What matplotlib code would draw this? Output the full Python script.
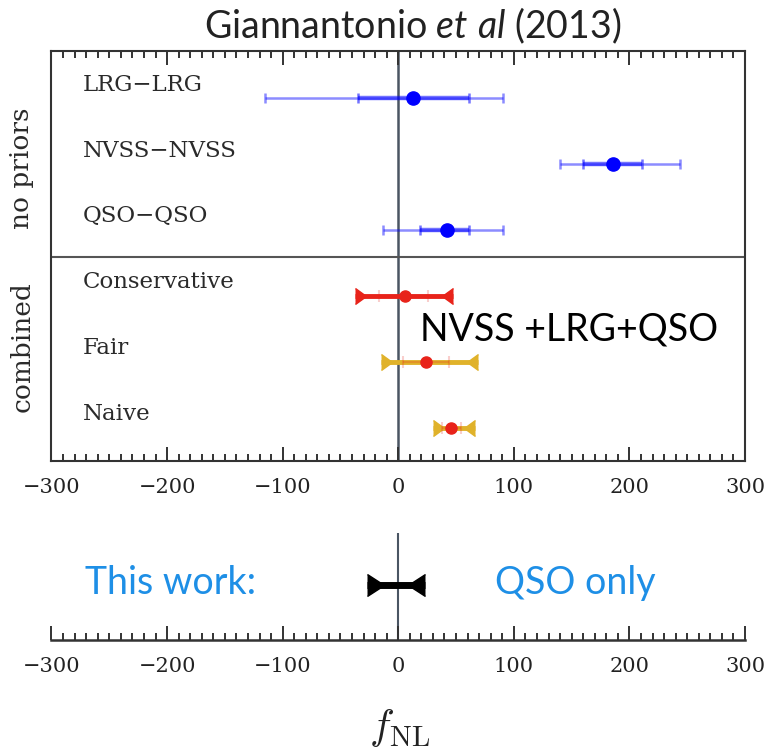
import numpy as np
import matplotlib
matplotlib.use("Agg")
import matplotlib.pyplot as plt
from matplotlib.ticker import MultipleLocator

# f_NL constraints without priors (single tracers)
noprior_labels = ["LRG\u2212LRG", "NVSS\u2212NVSS", "QSO\u2212QSO"]
noprior_fnl = [13, 186, 42]
noprior_lo1 = [-35, 160, 19]
noprior_hi1 = [61, 211, 61]
noprior_lo2 = [-115, 140, -13]
noprior_hi2 = [91, 244, 91]

# combined NVSS+LRG+QSO constraints
comb_labels = ["Conservative", "Fair", "Naive"]
comb_fnl = [6, 24, 46]
comb_lo1 = [-17, 4, 38]
comb_hi1 = [26, 44, 54]
comb_lo2 = [-37, -15, 30]
comb_hi2 = [47, 69, 66]

# this work, QSO only
this_lo = -27
this_hi = 23

W, H = 770, 752
BLUE = "#0000ff"
RED = "#e8231a"
GOLD = "#e0b22a"
SKY = "#1e8fe6"
AXCOL = "#333333"
ZEROCOL = "#4a5563"
SERIF = "DejaVu Serif"

plt.rcParams["mathtext.fontset"] = "custom"
plt.rcParams["mathtext.it"] = "Lato:italic"
plt.rcParams["mathtext.rm"] = "Lato"


def fx(px):
    return px / W


def fy(py):
    return 1 - py / H


def style_ticks(ax, top=True):
    ax.set_xlim(-300, 300)
    ax.xaxis.set_major_locator(MultipleLocator(100))
    ax.xaxis.set_minor_locator(MultipleLocator(10))
    ax.tick_params(axis="x", which="both", direction="in", top=top,
                   bottom=True, color=AXCOL, width=1.4,
                   labelsize=15, pad=12, labelcolor="#222222")
    ax.tick_params(axis="x", which="major", length=10)
    ax.tick_params(axis="x", which="minor", length=5)
    for lab in ax.get_xticklabels():
        lab.set_fontfamily(SERIF)
    ax.set_yticks([])


def capped_bar(ax, lo, hi, y, color, lw, ms):
    ax.plot([lo, hi], [y, y], color=color, lw=lw, solid_capstyle="butt", zorder=3)
    ax.plot([lo], [y], marker=9, color=color, ms=ms, zorder=3)
    ax.plot([hi], [y], marker=8, color=color, ms=ms, zorder=3)


fig = plt.figure(figsize=(W / 100, H / 100), dpi=100)

# ---- upper panel: Giannantonio et al (2013) ----
ax = fig.add_axes([fx(51.5), fy(461), fx(693.5), (461 - 51) / H])
style_ticks(ax, top=True)
ax.set_ylim(0, 6.22)
for s in ax.spines.values():
    s.set_color(AXCOL)
    s.set_linewidth(1.5)
ax.axvline(0, color=ZEROCOL, lw=1.8, zorder=1)
ax.axhline(3.09, color="#555555", lw=1.5, zorder=1)

rows = np.arange(6)[::-1] + 0.5

for i, lab in enumerate(noprior_labels):
    y = rows[i]
    c = noprior_fnl[i]
    ax.errorbar(c, y, xerr=[[c - noprior_lo2[i]], [noprior_hi2[i] - c]],
                fmt="none", ecolor=BLUE, alpha=0.45, elinewidth=1.8,
                capsize=3.5, capthick=1.8, zorder=2)
    ax.errorbar(c, y, xerr=[[c - noprior_lo1[i]], [noprior_hi1[i] - c]],
                fmt="none", ecolor=BLUE, alpha=0.55, elinewidth=3.2,
                capsize=3.5, capthick=1.8, zorder=2)
    ax.plot(c, y, "o", color=BLUE, ms=9.5, zorder=4)
    ax.text(-273, y + 0.21, lab, family=SERIF, fontsize=16.5,
            color="#2a2a2a", va="center", ha="left")

comb_line = [RED, GOLD, GOLD]
for i, lab in enumerate(comb_labels):
    y = rows[3 + i]
    c = comb_fnl[i]
    capped_bar(ax, comb_lo2[i], comb_hi2[i], y, comb_line[i], 3.5, 11)
    ax.errorbar(c, y, xerr=[[c - comb_lo1[i]], [comb_hi1[i] - c]],
                fmt="none", ecolor=RED, alpha=0.22, elinewidth=1.5,
                capsize=4, capthick=1.5, zorder=4)
    ax.plot(c, y, "o", color=RED, ms=8, zorder=5)
    ax.text(-273, y + 0.21, lab, family=SERIF, fontsize=16.5,
            color="#2a2a2a", va="center", ha="left")

ax.text(19, 2.0, "NVSS +LRG+QSO", family="Lato", fontsize=27,
        color="black", ha="left", va="center")

fig.text(fx(22), fy(168), "no priors", family=SERIF, fontsize=19,
         rotation=90, ha="center", va="center", color="#2a2a2a")
fig.text(fx(22), fy(347), "combined", family=SERIF, fontsize=19,
         rotation=90, ha="center", va="center", color="#2a2a2a")

fig.text(fx(413), fy(26), "Giannantonio $\\mathit{et\\ al}$ (2013)",
         family="Lato", fontsize=27, ha="center", va="center",
         color="#222222")

# ---- lower panel: this work ----
ax2 = fig.add_axes([fx(51.5), fy(640), fx(693.5), (640 - 533) / H])
style_ticks(ax2, top=False)
ax2.set_ylim(0, 1)
for side in ["top", "left", "right"]:
    ax2.spines[side].set_visible(False)
ax2.spines["bottom"].set_color(AXCOL)
ax2.spines["bottom"].set_linewidth(1.8)
ax2.axvline(0, color=ZEROCOL, lw=1.5, zorder=1)
ax2.patch.set_alpha(0)
capped_bar(ax2, this_lo, this_hi, 0.51, "black", 5, 16)

fig.text(fx(85), fy(583), "This work:", family="Lato", fontsize=27,
         color=SKY, ha="left", va="center")
fig.text(fx(495), fy(583), "QSO only", family="Lato", fontsize=27,
         color=SKY, ha="left", va="center")

fig.text(fx(400), fy(728), "$f_{\\rm NL}$", fontsize=30, ha="center",
         va="center", color="#222222", math_fontfamily="cm")

fig.savefig("out.png", dpi=100)
